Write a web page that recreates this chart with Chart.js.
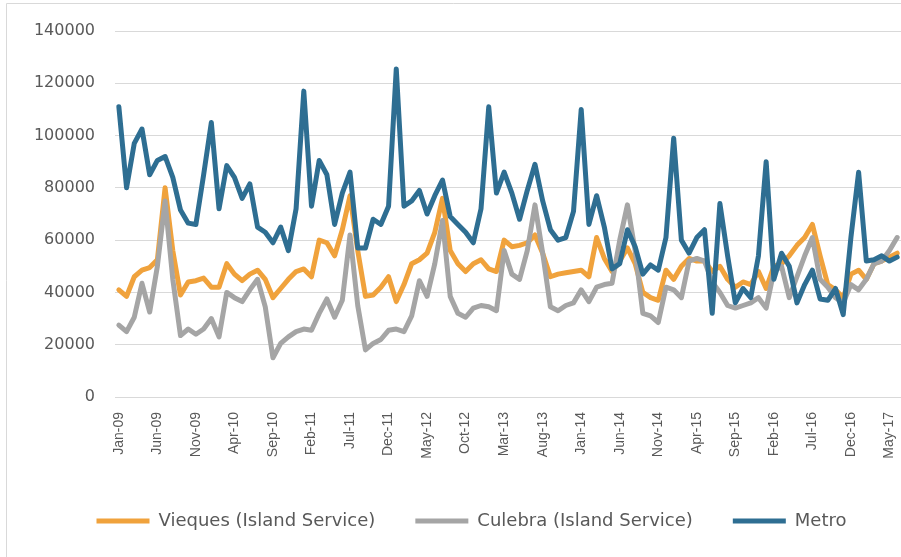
<!DOCTYPE html>
<html>
<head>
<meta charset="utf-8">
<script src="https://cdn.jsdelivr.net/npm/chart.js@4.4.1/dist/chart.umd.min.js"></script>
<style>
  html, body { margin: 0; padding: 0; background: #fff; overflow: hidden; }
  #wrap { width: 901px; height: 557px; }
</style>
</head>
<body>
<div id="wrap"><canvas id="riders" width="901" height="557"></canvas></div>
<script>
// monthly riders, Jan-09 .. Jun-17
const months = ["Jan", "Feb", "Mar", "Apr", "May", "Jun", "Jul", "Aug", "Sep", "Oct", "Nov", "Dec"];
const labels = [];
for (let k = 0; k < 102; k++) {
  labels.push(months[k % 12] + "-" + String(9 + Math.floor(k / 12)).padStart(2, "0"));
}

const vieques = [
  41000, 38500, 46000, 48500, 49500, 52500, 80000, 56000, 39000, 44000, 44500, 45500,
  42000, 42000, 51000, 47000, 44500, 47000, 48500, 45000, 38000, 41500, 45000, 48000,
  49000, 46000, 60000, 59000, 54000, 64000, 77000, 56000, 38500, 39000, 42000, 46000,
  36500, 43000, 51000, 52500, 55000, 63000, 76000, 56000, 51000, 48000, 51000, 52500,
  49000, 48000, 60000, 57500, 58000, 59000, 62000, 55000, 46000, 47000, 47500, 48000,
  48500, 46000, 61000, 53000, 48000, 52000, 57000, 51000, 40000, 38000, 37000, 48500,
  45000, 50000, 53000, 52000, 52000, 48000, 50000, 45000, 42000, 44000, 43000, 48000,
  41500, 50000, 51000, 54000, 58000, 61000, 66000, 54000, 43000, 41000, 38000, 47000,
  48500, 45000, 51000, 52000, 53500, 55000
];
const culebra = [
  27500, 25000, 30500, 43500, 32500, 50000, 75000, 45000, 23500, 26000, 24000, 26000,
  30000, 23000, 40000, 38000, 36500, 41000, 45000, 34500, 15000, 20500, 23000, 25000,
  26000, 25500, 32000, 37500, 30500, 37000, 62000, 35000, 18000, 20500, 22000, 25500,
  26000, 25000, 31000, 44500, 38500, 51000, 67500, 38500, 32000, 30500, 34000, 35000,
  34500, 33000, 56000, 47000, 45000, 56000, 73500, 55000, 34500, 33000, 35000, 36000,
  41000, 36500, 42000, 43000, 43500, 60000, 73500, 56000, 32000, 31000, 28500, 42000,
  41000, 38000, 52000, 53000, 52000, 44000, 40000, 35000, 34000, 35000, 36000, 38000,
  34000, 48000, 50000, 38000, 46000, 54000, 61000, 45000, 42000, 38000, 36000, 43000,
  41000, 45000, 51000, 52000, 56000, 61000
];
const metro = [
  111000, 80000, 97000, 102500, 85000, 90500, 92000, 84000, 71500, 66500, 66000, 85000,
  105000, 72000, 88500, 84000, 76000, 81500, 65000, 63000, 59000, 65000, 56000, 72000,
  117000, 73000, 90500, 85000, 66000, 78000, 86000, 57000, 57000, 68000, 66000, 73000,
  125500, 73000, 75000, 79000, 70000, 77000, 83000, 69000, 66000, 63000, 59000, 72000,
  111000, 78000, 86000, 78000, 68000, 79000, 89000, 75000, 64000, 60000, 61000, 71000,
  110000, 66000, 77000, 65000, 49000, 51000, 64000, 57500, 47000, 50500, 48500, 61000,
  99000, 60000, 55000, 61000, 64000, 32000, 74000, 54000, 36000, 41500, 38000, 54000,
  90000, 45000, 55000, 50000, 36000, 43000, 48500, 37500, 37000, 41500, 31500, 61000,
  86000, 52000, 52500, 54000, 52000, 53500
];

const textGray = "#595959";
const gridGray = "#d9d9d9";

// thin frame like the excel chart border
const framePlugin = {
  id: "frame",
  beforeDraw(chart) {
    const ctx = chart.ctx;
    ctx.save();
    ctx.strokeStyle = gridGray;
    ctx.lineWidth = 1;
    ctx.beginPath();
    ctx.moveTo(6.5, chart.height);
    ctx.lineTo(6.5, 3.5);
    ctx.lineTo(chart.width, 3.5);
    ctx.stroke();
    ctx.restore();
  },
};

// excel centres the legend on a wider chart, push it right a bit
const legendShift = {
  id: "legendShift",
  afterLayout(chart) {
    if (chart.legend) chart.legend.left = 42;
  },
};

const lineStyle = {
  borderWidth: 5,
  pointRadius: 0,
  pointHoverRadius: 0,
  tension: 0,
  borderJoinStyle: "round",
  borderCapStyle: "round",
  fill: false,
};

new Chart(document.getElementById("riders"), {
  type: "line",
  data: {
    labels: labels,
    datasets: [
      { ...lineStyle, label: "Vieques (Island Service)", data: vieques, borderColor: "#F0A23C", backgroundColor: "#F0A23C", order: 3 },
      { ...lineStyle, label: "Culebra (Island Service)", data: culebra, borderColor: "#A5A5A5", backgroundColor: "#A5A5A5", order: 2 },
      { ...lineStyle, label: "Metro", data: metro, borderColor: "#2E6E92", backgroundColor: "#2E6E92", order: 1 },
    ],
  },
  options: {
    responsive: false,
    animation: false,
    layout: { padding: { left: 0, right: 0, top: 31, bottom: 17 } },
    scales: {
      x: {
        offset: true,
        grid: { display: false, drawTicks: false },
        border: { display: true, color: gridGray },
        ticks: {
          autoSkip: false,
          maxRotation: 90,
          minRotation: 90,
          padding: 15,
          color: textGray,
          font: { family: "Liberation Sans", size: 14 },
          callback: function (value, index) {
            return index % 5 === 0 ? this.getLabelForValue(value) : "";
          },
        },
        afterFit(scale) {
          scale.height = 75;
          scale.paddingLeft = 0;
          scale.paddingRight = 0;
        },
      },
      y: {
        min: 0,
        max: 140000,
        grid: { color: gridGray, drawTicks: false },
        border: { display: false },
        ticks: {
          stepSize: 20000,
          padding: 20,
          color: textGray,
          font: { family: "DejaVu Sans", size: 16 },
          callback: (value) => String(value),
        },
        afterFit(scale) {
          scale.width = 115;
          scale.paddingTop = 0;
          scale.paddingBottom = 0;
        },
      },
    },
    plugins: {
      legend: {
        position: "bottom",
        labels: {
          usePointStyle: true,
          pointStyle: "line",
          pointStyleWidth: 53,
          padding: 40,
          color: textGray,
          font: { family: "DejaVu Sans", size: 18 },
          sort: (a, b) => a.datasetIndex - b.datasetIndex,
        },
      },
      tooltip: { enabled: false },
    },
  },
  plugins: [framePlugin, legendShift],
});
</script>
</body>
</html>
